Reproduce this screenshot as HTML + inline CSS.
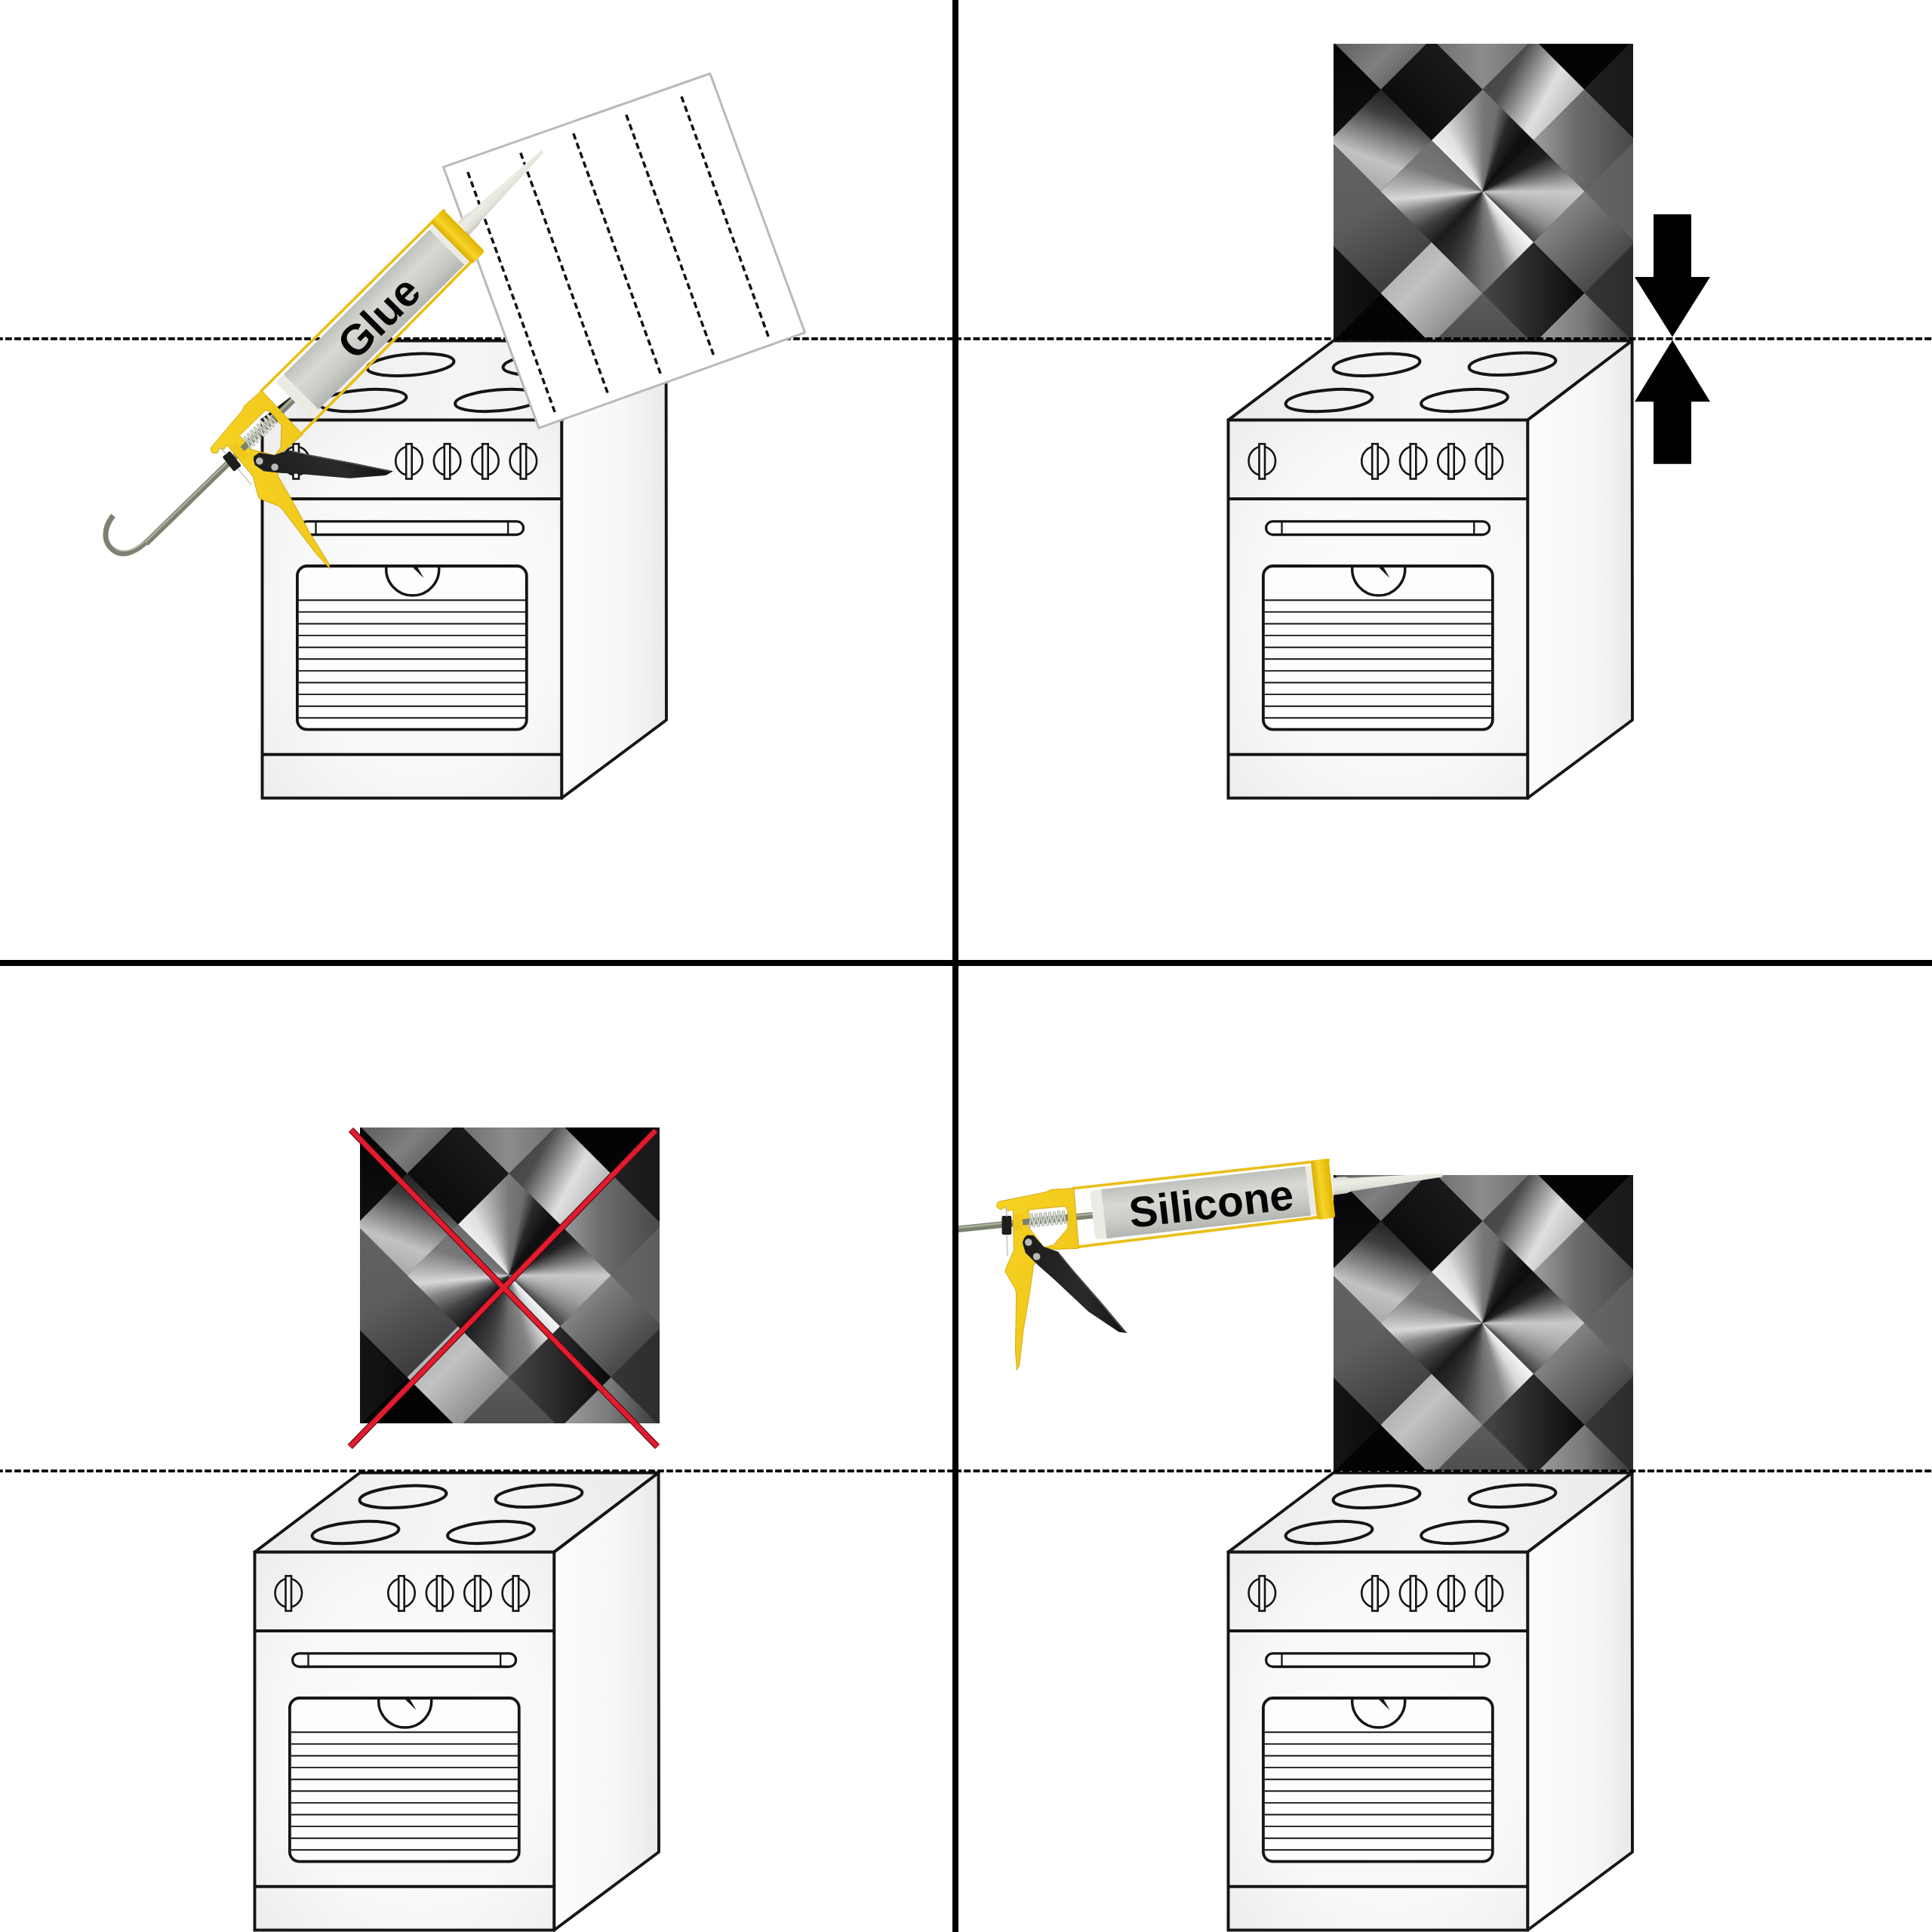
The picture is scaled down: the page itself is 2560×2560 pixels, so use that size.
<!DOCTYPE html>
<html><head><meta charset="utf-8"><title>Oven backsplash install</title>
<style>
html,body{margin:0;padding:0;background:#fff;width:2560px;height:2560px;overflow:hidden;position:relative;}
svg{display:block;position:absolute;left:0;top:0;}
.tile{position:absolute;width:397px;height:392px;overflow:hidden;background:#444;}
.cell{position:absolute;clip-path:polygon(50% 0,100% 50%,50% 100%,0 50%);}
.star{position:absolute;left:0;top:0;width:397px;height:392px;}
</style></head><body>

<svg width="2560" height="2560" viewBox="0 0 2560 2560">
<defs>
<radialGradient id="gFront" cx="0.55" cy="0.5" r="0.75">
<stop offset="0" stop-color="#fdfdfd"/><stop offset="0.6" stop-color="#f8f8f8"/><stop offset="1" stop-color="#ececed"/></radialGradient>
<linearGradient id="gTop" x1="0" y1="0" x2="1" y2="0">
<stop offset="0" stop-color="#ececee"/><stop offset="0.5" stop-color="#f5f5f6"/><stop offset="1" stop-color="#eaeaec"/></linearGradient>
<linearGradient id="gSide" x1="0" y1="0" x2="1" y2="0">
<stop offset="0" stop-color="#fcfcfc"/><stop offset="0.6" stop-color="#f7f7f7"/><stop offset="1" stop-color="#e9e9eb"/></linearGradient>
<g id="oven"><polygon points="1627.5,556.6 1766.9,451.5 2162.6,451.5 2024.2,556.6" fill="url(#gTop)" stroke="#161414" stroke-width="3.9" stroke-linejoin="round"/>
<polygon points="2024.2,556.6 2162.6,451.5 2163,954 2024.2,1057.5" fill="url(#gSide)" stroke="#161414" stroke-width="3.9" stroke-linejoin="round"/>
<rect x="1627.5" y="556.6" width="396.7" height="500.9" fill="url(#gFront)" stroke="#161414" stroke-width="3.9"/>
<line x1="1627.5" y1="661" x2="2024.2" y2="661" stroke="#161414" stroke-width="3.9"/>
<line x1="1627.5" y1="999.7" x2="2024.2" y2="999.7" stroke="#161414" stroke-width="3.9"/>
<ellipse cx="1824" cy="483.3" rx="57.6" ry="14" fill="none" stroke="#161414" stroke-width="4" transform="rotate(-4.7 1824 483.3)"/>
<ellipse cx="2004" cy="482.2" rx="57.6" ry="14" fill="none" stroke="#161414" stroke-width="4" transform="rotate(-4.7 2004 482.2)"/>
<ellipse cx="1761" cy="530.6" rx="57.6" ry="14" fill="none" stroke="#161414" stroke-width="4" transform="rotate(-4.7 1761 530.6)"/>
<ellipse cx="1940.5" cy="530.4" rx="57.6" ry="14" fill="none" stroke="#161414" stroke-width="4" transform="rotate(-4.7 1940.5 530.4)"/>
<ellipse cx="1672.3" cy="610.8" rx="17.75" ry="19" fill="none" stroke="#161414" stroke-width="2.6"/>
<rect x="1668.5" y="588.2" width="7.5" height="46.3" fill="#f7f7f7" stroke="#161414" stroke-width="2.6"/>
<ellipse cx="1822" cy="610.8" rx="17.75" ry="19" fill="none" stroke="#161414" stroke-width="2.6"/>
<rect x="1818.2" y="588.2" width="7.5" height="46.3" fill="#f7f7f7" stroke="#161414" stroke-width="2.6"/>
<ellipse cx="1872.6" cy="610.8" rx="17.75" ry="19" fill="none" stroke="#161414" stroke-width="2.6"/>
<rect x="1868.8" y="588.2" width="7.5" height="46.3" fill="#f7f7f7" stroke="#161414" stroke-width="2.6"/>
<ellipse cx="1923" cy="610.8" rx="17.75" ry="19" fill="none" stroke="#161414" stroke-width="2.6"/>
<rect x="1919.2" y="588.2" width="7.5" height="46.3" fill="#f7f7f7" stroke="#161414" stroke-width="2.6"/>
<ellipse cx="1973.4" cy="610.8" rx="17.75" ry="19" fill="none" stroke="#161414" stroke-width="2.6"/>
<rect x="1969.7" y="588.2" width="7.5" height="46.3" fill="#f7f7f7" stroke="#161414" stroke-width="2.6"/>
<rect x="1677.6" y="690.8" width="296" height="17.7" rx="8.85" fill="#fbfbfb" stroke="#161414" stroke-width="3.3"/>
<line x1="1698.5" y1="690.8" x2="1698.5" y2="708.5" stroke="#161414" stroke-width="2.3"/>
<line x1="1953.2" y1="690.8" x2="1953.2" y2="708.5" stroke="#161414" stroke-width="2.3"/>
<rect x="1673.9" y="750" width="303.9" height="216.7" rx="13" fill="#fdfdfd" stroke="#161414" stroke-width="3.8"/>
<line x1="1675.6" y1="795.3" x2="1976.1" y2="795.3" stroke="#161414" stroke-width="1.9"/>
<line x1="1675.6" y1="810.9" x2="1976.1" y2="810.9" stroke="#161414" stroke-width="1.9"/>
<line x1="1675.6" y1="826.5" x2="1976.1" y2="826.5" stroke="#161414" stroke-width="1.9"/>
<line x1="1675.6" y1="842.1" x2="1976.1" y2="842.1" stroke="#161414" stroke-width="1.9"/>
<line x1="1675.6" y1="857.7" x2="1976.1" y2="857.7" stroke="#161414" stroke-width="1.9"/>
<line x1="1675.6" y1="873.3" x2="1976.1" y2="873.3" stroke="#161414" stroke-width="1.9"/>
<line x1="1675.6" y1="888.9" x2="1976.1" y2="888.9" stroke="#161414" stroke-width="1.9"/>
<line x1="1675.6" y1="904.5" x2="1976.1" y2="904.5" stroke="#161414" stroke-width="1.9"/>
<line x1="1675.6" y1="920.1" x2="1976.1" y2="920.1" stroke="#161414" stroke-width="1.9"/>
<line x1="1675.6" y1="935.7" x2="1976.1" y2="935.7" stroke="#161414" stroke-width="1.9"/>
<line x1="1675.6" y1="951.3" x2="1976.1" y2="951.3" stroke="#161414" stroke-width="1.9"/>
<path d="M1791.93,750 A35,35 0 1 0 1861.47,750" fill="none" stroke="#161414" stroke-width="3.5"/>
<polygon points="1826,751 1833,751 1841.5,766" fill="#161414"/></g>
</defs>
<rect width="2560" height="2560" fill="#fff"/>
<use href="#oven" transform="translate(-1280,0)"/>
<use href="#oven"/>
<use href="#oven" transform="translate(-1290,1500)"/>
<use href="#oven" transform="translate(0,1500)"/>
</svg>
<div class="tile" style="left:1767px;top:57.5px;"><div class="cell" style="left:62.5px;top:-6.5px;width:135.0px;height:135.0px;background:linear-gradient(45deg,rgb(6,6,8) 0%,rgb(32,32,34) 100%)"></div><div class="cell" style="left:-5.0px;top:61.0px;width:135.0px;height:135.0px;background:linear-gradient(20deg,rgb(153,153,155) 0%,rgb(194,194,196) 35%,rgb(62,62,64) 70%,rgb(13,13,15) 100%)"></div><div class="cell" style="left:-5.0px;top:-74.0px;width:135.0px;height:135.0px;background:linear-gradient(135deg,rgb(62,62,64) 0%,rgb(127,127,129) 60%,rgb(76,76,78) 100%)"></div><div class="cell" style="left:-72.5px;top:-6.5px;width:135.0px;height:135.0px;background:linear-gradient(180deg,rgb(4,4,6) 0%,rgb(16,16,18) 100%)"></div><div class="cell" style="left:-72.5px;top:128.5px;width:135.0px;height:135.0px;background:linear-gradient(180deg,rgb(98,98,100) 0%,rgb(92,92,94) 100%)"></div><div class="cell" style="left:130.0px;top:-74.0px;width:135.0px;height:135.0px;background:linear-gradient(90deg,rgb(109,109,111) 0%,rgb(140,140,142) 50%,rgb(109,109,111) 100%)"></div><div class="cell" style="left:197.5px;top:-6.5px;width:135.0px;height:135.0px;background:linear-gradient(119deg,rgb(62,62,64) 0%,rgb(76,76,78) 30%,rgb(224,224,226) 60%,rgb(153,153,155) 100%)"></div><div class="cell" style="left:265.0px;top:61.0px;width:135.0px;height:135.0px;background:linear-gradient(90deg,rgb(159,159,161) 0%,rgb(109,109,111) 40%,rgb(71,71,73) 100%)"></div><div class="cell" style="left:265.0px;top:-74.0px;width:135.0px;height:135.0px;background:linear-gradient(180deg,rgb(2,2,4) 0%,rgb(4,4,6) 100%)"></div><div class="cell" style="left:332.5px;top:-6.5px;width:135.0px;height:135.0px;background:linear-gradient(90deg,rgb(32,32,34) 0%,rgb(16,16,18) 100%)"></div><div class="cell" style="left:332.5px;top:128.5px;width:135.0px;height:135.0px;background:linear-gradient(90deg,rgb(103,103,105) 0%,rgb(81,81,83) 100%)"></div><div class="cell" style="left:265.0px;top:196.0px;width:135.0px;height:135.0px;background:linear-gradient(135deg,rgb(159,159,161) 0%,rgb(44,44,46) 100%)"></div><div class="cell" style="left:197.5px;top:263.5px;width:135.0px;height:135.0px;background:linear-gradient(90deg,rgb(71,71,73) 0%,rgb(8,8,10) 100%)"></div><div class="cell" style="left:332.5px;top:263.5px;width:135.0px;height:135.0px;background:linear-gradient(90deg,rgb(53,53,55) 0%,rgb(36,36,38) 100%)"></div><div class="cell" style="left:265.0px;top:331.0px;width:135.0px;height:135.0px;background:linear-gradient(90deg,rgb(159,159,161) 0%,rgb(121,121,123) 50%,rgb(53,53,55) 100%)"></div><div class="cell" style="left:130.0px;top:331.0px;width:135.0px;height:135.0px;background:linear-gradient(180deg,rgb(92,92,94) 0%,rgb(62,62,64) 100%)"></div><div class="cell" style="left:-5.0px;top:196.0px;width:135.0px;height:135.0px;background:linear-gradient(150deg,rgb(109,109,111) 0%,rgb(48,48,50) 100%)"></div><div class="cell" style="left:-72.5px;top:263.5px;width:135.0px;height:135.0px;background:linear-gradient(90deg,rgb(32,32,34) 0%,rgb(11,11,13) 100%)"></div><div class="cell" style="left:-5.0px;top:331.0px;width:135.0px;height:135.0px;background:linear-gradient(180deg,rgb(4,4,6) 0%,rgb(2,2,4) 100%)"></div><div class="cell" style="left:62.5px;top:263.5px;width:135.0px;height:135.0px;background:linear-gradient(135deg,rgb(159,159,161) 0%,rgb(194,194,196) 40%,rgb(109,109,111) 100%)"></div><div class="star" style="clip-path:polygon(197.5px 61.0px,265.0px 128.5px,197.5px 196.0px,130.0px 128.5px);background:conic-gradient(from -45deg at 197.5px 196px,rgb(239,239,241) 0deg,rgb(224,224,226) 15deg,rgb(173,173,175) 30deg,rgb(121,121,123) 45deg,rgb(109,109,111) 55deg,rgb(40,40,42) 65deg,rgb(16,16,18) 80deg,rgb(13,13,15) 90deg)"></div><div class="star" style="clip-path:polygon(265.0px 128.5px,332.5px 196.0px,265.0px 263.5px,197.5px 196.0px);background:conic-gradient(from 0deg at 197.5px 196.0px,rgb(19,19,21) 45deg,rgb(32,32,34) 60deg,rgb(109,109,111) 75deg,rgb(201,201,203) 90deg,rgb(173,173,175) 105deg,rgb(133,133,135) 120deg,rgb(66,66,68) 135deg)"></div><div class="star" style="clip-path:polygon(197.5px 196.0px,265.0px 263.5px,197.5px 331.0px,130.0px 263.5px);background:conic-gradient(from 0deg at 197.5px 196.0px,rgb(247,247,249) 135deg,rgb(216,216,218) 150deg,rgb(133,133,135) 165deg,rgb(109,109,111) 180deg,rgb(66,66,68) 195deg,rgb(40,40,42) 210deg,rgb(25,25,27) 225deg)"></div><div class="star" style="clip-path:polygon(130.0px 128.5px,197.5px 196.0px,130.0px 263.5px,62.5px 196.0px);background:conic-gradient(from 0deg at 197.5px 196.0px,rgb(32,32,34) 225deg,rgb(66,66,68) 240deg,rgb(133,133,135) 255deg,rgb(216,216,218) 265deg,rgb(173,173,175) 275deg,rgb(121,121,123) 290deg,rgb(109,109,111) 315deg)"></div></div>
<div class="tile" style="left:1767px;top:1557px;"><div class="cell" style="left:62.5px;top:-6.5px;width:135.0px;height:135.0px;background:linear-gradient(45deg,rgb(6,6,8) 0%,rgb(32,32,34) 100%)"></div><div class="cell" style="left:-5.0px;top:61.0px;width:135.0px;height:135.0px;background:linear-gradient(20deg,rgb(153,153,155) 0%,rgb(194,194,196) 35%,rgb(62,62,64) 70%,rgb(13,13,15) 100%)"></div><div class="cell" style="left:-5.0px;top:-74.0px;width:135.0px;height:135.0px;background:linear-gradient(135deg,rgb(62,62,64) 0%,rgb(127,127,129) 60%,rgb(76,76,78) 100%)"></div><div class="cell" style="left:-72.5px;top:-6.5px;width:135.0px;height:135.0px;background:linear-gradient(180deg,rgb(4,4,6) 0%,rgb(16,16,18) 100%)"></div><div class="cell" style="left:-72.5px;top:128.5px;width:135.0px;height:135.0px;background:linear-gradient(180deg,rgb(98,98,100) 0%,rgb(92,92,94) 100%)"></div><div class="cell" style="left:130.0px;top:-74.0px;width:135.0px;height:135.0px;background:linear-gradient(90deg,rgb(109,109,111) 0%,rgb(140,140,142) 50%,rgb(109,109,111) 100%)"></div><div class="cell" style="left:197.5px;top:-6.5px;width:135.0px;height:135.0px;background:linear-gradient(119deg,rgb(62,62,64) 0%,rgb(76,76,78) 30%,rgb(224,224,226) 60%,rgb(153,153,155) 100%)"></div><div class="cell" style="left:265.0px;top:61.0px;width:135.0px;height:135.0px;background:linear-gradient(90deg,rgb(159,159,161) 0%,rgb(109,109,111) 40%,rgb(71,71,73) 100%)"></div><div class="cell" style="left:265.0px;top:-74.0px;width:135.0px;height:135.0px;background:linear-gradient(180deg,rgb(2,2,4) 0%,rgb(4,4,6) 100%)"></div><div class="cell" style="left:332.5px;top:-6.5px;width:135.0px;height:135.0px;background:linear-gradient(90deg,rgb(32,32,34) 0%,rgb(16,16,18) 100%)"></div><div class="cell" style="left:332.5px;top:128.5px;width:135.0px;height:135.0px;background:linear-gradient(90deg,rgb(103,103,105) 0%,rgb(81,81,83) 100%)"></div><div class="cell" style="left:265.0px;top:196.0px;width:135.0px;height:135.0px;background:linear-gradient(135deg,rgb(159,159,161) 0%,rgb(44,44,46) 100%)"></div><div class="cell" style="left:197.5px;top:263.5px;width:135.0px;height:135.0px;background:linear-gradient(90deg,rgb(71,71,73) 0%,rgb(8,8,10) 100%)"></div><div class="cell" style="left:332.5px;top:263.5px;width:135.0px;height:135.0px;background:linear-gradient(90deg,rgb(53,53,55) 0%,rgb(36,36,38) 100%)"></div><div class="cell" style="left:265.0px;top:331.0px;width:135.0px;height:135.0px;background:linear-gradient(90deg,rgb(159,159,161) 0%,rgb(121,121,123) 50%,rgb(53,53,55) 100%)"></div><div class="cell" style="left:130.0px;top:331.0px;width:135.0px;height:135.0px;background:linear-gradient(180deg,rgb(92,92,94) 0%,rgb(62,62,64) 100%)"></div><div class="cell" style="left:-5.0px;top:196.0px;width:135.0px;height:135.0px;background:linear-gradient(150deg,rgb(109,109,111) 0%,rgb(48,48,50) 100%)"></div><div class="cell" style="left:-72.5px;top:263.5px;width:135.0px;height:135.0px;background:linear-gradient(90deg,rgb(32,32,34) 0%,rgb(11,11,13) 100%)"></div><div class="cell" style="left:-5.0px;top:331.0px;width:135.0px;height:135.0px;background:linear-gradient(180deg,rgb(4,4,6) 0%,rgb(2,2,4) 100%)"></div><div class="cell" style="left:62.5px;top:263.5px;width:135.0px;height:135.0px;background:linear-gradient(135deg,rgb(159,159,161) 0%,rgb(194,194,196) 40%,rgb(109,109,111) 100%)"></div><div class="star" style="clip-path:polygon(197.5px 61.0px,265.0px 128.5px,197.5px 196.0px,130.0px 128.5px);background:conic-gradient(from -45deg at 197.5px 196px,rgb(239,239,241) 0deg,rgb(224,224,226) 15deg,rgb(173,173,175) 30deg,rgb(121,121,123) 45deg,rgb(109,109,111) 55deg,rgb(40,40,42) 65deg,rgb(16,16,18) 80deg,rgb(13,13,15) 90deg)"></div><div class="star" style="clip-path:polygon(265.0px 128.5px,332.5px 196.0px,265.0px 263.5px,197.5px 196.0px);background:conic-gradient(from 0deg at 197.5px 196.0px,rgb(19,19,21) 45deg,rgb(32,32,34) 60deg,rgb(109,109,111) 75deg,rgb(201,201,203) 90deg,rgb(173,173,175) 105deg,rgb(133,133,135) 120deg,rgb(66,66,68) 135deg)"></div><div class="star" style="clip-path:polygon(197.5px 196.0px,265.0px 263.5px,197.5px 331.0px,130.0px 263.5px);background:conic-gradient(from 0deg at 197.5px 196.0px,rgb(247,247,249) 135deg,rgb(216,216,218) 150deg,rgb(133,133,135) 165deg,rgb(109,109,111) 180deg,rgb(66,66,68) 195deg,rgb(40,40,42) 210deg,rgb(25,25,27) 225deg)"></div><div class="star" style="clip-path:polygon(130.0px 128.5px,197.5px 196.0px,130.0px 263.5px,62.5px 196.0px);background:conic-gradient(from 0deg at 197.5px 196.0px,rgb(32,32,34) 225deg,rgb(66,66,68) 240deg,rgb(133,133,135) 255deg,rgb(216,216,218) 265deg,rgb(173,173,175) 275deg,rgb(121,121,123) 290deg,rgb(109,109,111) 315deg)"></div></div>
<div class="tile" style="left:477px;top:1494px;"><div class="cell" style="left:62.5px;top:-6.5px;width:135.0px;height:135.0px;background:linear-gradient(45deg,rgb(6,6,8) 0%,rgb(32,32,34) 100%)"></div><div class="cell" style="left:-5.0px;top:61.0px;width:135.0px;height:135.0px;background:linear-gradient(20deg,rgb(153,153,155) 0%,rgb(194,194,196) 35%,rgb(62,62,64) 70%,rgb(13,13,15) 100%)"></div><div class="cell" style="left:-5.0px;top:-74.0px;width:135.0px;height:135.0px;background:linear-gradient(135deg,rgb(62,62,64) 0%,rgb(127,127,129) 60%,rgb(76,76,78) 100%)"></div><div class="cell" style="left:-72.5px;top:-6.5px;width:135.0px;height:135.0px;background:linear-gradient(180deg,rgb(4,4,6) 0%,rgb(16,16,18) 100%)"></div><div class="cell" style="left:-72.5px;top:128.5px;width:135.0px;height:135.0px;background:linear-gradient(180deg,rgb(98,98,100) 0%,rgb(92,92,94) 100%)"></div><div class="cell" style="left:130.0px;top:-74.0px;width:135.0px;height:135.0px;background:linear-gradient(90deg,rgb(109,109,111) 0%,rgb(140,140,142) 50%,rgb(109,109,111) 100%)"></div><div class="cell" style="left:197.5px;top:-6.5px;width:135.0px;height:135.0px;background:linear-gradient(119deg,rgb(62,62,64) 0%,rgb(76,76,78) 30%,rgb(224,224,226) 60%,rgb(153,153,155) 100%)"></div><div class="cell" style="left:265.0px;top:61.0px;width:135.0px;height:135.0px;background:linear-gradient(90deg,rgb(159,159,161) 0%,rgb(109,109,111) 40%,rgb(71,71,73) 100%)"></div><div class="cell" style="left:265.0px;top:-74.0px;width:135.0px;height:135.0px;background:linear-gradient(180deg,rgb(2,2,4) 0%,rgb(4,4,6) 100%)"></div><div class="cell" style="left:332.5px;top:-6.5px;width:135.0px;height:135.0px;background:linear-gradient(90deg,rgb(32,32,34) 0%,rgb(16,16,18) 100%)"></div><div class="cell" style="left:332.5px;top:128.5px;width:135.0px;height:135.0px;background:linear-gradient(90deg,rgb(103,103,105) 0%,rgb(81,81,83) 100%)"></div><div class="cell" style="left:265.0px;top:196.0px;width:135.0px;height:135.0px;background:linear-gradient(135deg,rgb(159,159,161) 0%,rgb(44,44,46) 100%)"></div><div class="cell" style="left:197.5px;top:263.5px;width:135.0px;height:135.0px;background:linear-gradient(90deg,rgb(71,71,73) 0%,rgb(8,8,10) 100%)"></div><div class="cell" style="left:332.5px;top:263.5px;width:135.0px;height:135.0px;background:linear-gradient(90deg,rgb(53,53,55) 0%,rgb(36,36,38) 100%)"></div><div class="cell" style="left:265.0px;top:331.0px;width:135.0px;height:135.0px;background:linear-gradient(90deg,rgb(159,159,161) 0%,rgb(121,121,123) 50%,rgb(53,53,55) 100%)"></div><div class="cell" style="left:130.0px;top:331.0px;width:135.0px;height:135.0px;background:linear-gradient(180deg,rgb(92,92,94) 0%,rgb(62,62,64) 100%)"></div><div class="cell" style="left:-5.0px;top:196.0px;width:135.0px;height:135.0px;background:linear-gradient(150deg,rgb(109,109,111) 0%,rgb(48,48,50) 100%)"></div><div class="cell" style="left:-72.5px;top:263.5px;width:135.0px;height:135.0px;background:linear-gradient(90deg,rgb(32,32,34) 0%,rgb(11,11,13) 100%)"></div><div class="cell" style="left:-5.0px;top:331.0px;width:135.0px;height:135.0px;background:linear-gradient(180deg,rgb(4,4,6) 0%,rgb(2,2,4) 100%)"></div><div class="cell" style="left:62.5px;top:263.5px;width:135.0px;height:135.0px;background:linear-gradient(135deg,rgb(159,159,161) 0%,rgb(194,194,196) 40%,rgb(109,109,111) 100%)"></div><div class="star" style="clip-path:polygon(197.5px 61.0px,265.0px 128.5px,197.5px 196.0px,130.0px 128.5px);background:conic-gradient(from -45deg at 197.5px 196px,rgb(239,239,241) 0deg,rgb(224,224,226) 15deg,rgb(173,173,175) 30deg,rgb(121,121,123) 45deg,rgb(109,109,111) 55deg,rgb(40,40,42) 65deg,rgb(16,16,18) 80deg,rgb(13,13,15) 90deg)"></div><div class="star" style="clip-path:polygon(265.0px 128.5px,332.5px 196.0px,265.0px 263.5px,197.5px 196.0px);background:conic-gradient(from 0deg at 197.5px 196.0px,rgb(19,19,21) 45deg,rgb(32,32,34) 60deg,rgb(109,109,111) 75deg,rgb(201,201,203) 90deg,rgb(173,173,175) 105deg,rgb(133,133,135) 120deg,rgb(66,66,68) 135deg)"></div><div class="star" style="clip-path:polygon(197.5px 196.0px,265.0px 263.5px,197.5px 331.0px,130.0px 263.5px);background:conic-gradient(from 0deg at 197.5px 196.0px,rgb(247,247,249) 135deg,rgb(216,216,218) 150deg,rgb(133,133,135) 165deg,rgb(109,109,111) 180deg,rgb(66,66,68) 195deg,rgb(40,40,42) 210deg,rgb(25,25,27) 225deg)"></div><div class="star" style="clip-path:polygon(130.0px 128.5px,197.5px 196.0px,130.0px 263.5px,62.5px 196.0px);background:conic-gradient(from 0deg at 197.5px 196.0px,rgb(32,32,34) 225deg,rgb(66,66,68) 240deg,rgb(133,133,135) 255deg,rgb(216,216,218) 265deg,rgb(173,173,175) 275deg,rgb(121,121,123) 290deg,rgb(109,109,111) 315deg)"></div></div>
<svg width="2560" height="2560" viewBox="0 0 2560 2560">
<defs>
<linearGradient id="gLabel" x1="0" y1="0" x2="0" y2="1">
<stop offset="0" stop-color="#bfc1bc"/><stop offset="0.35" stop-color="#d8d9d4"/><stop offset="0.7" stop-color="#c9cbc6"/><stop offset="1" stop-color="#b3b5b0"/></linearGradient>
<linearGradient id="gCap" x1="0" y1="0" x2="1" y2="0">
<stop offset="0" stop-color="#d9ad00"/><stop offset="0.4" stop-color="#f7d42a"/><stop offset="1" stop-color="#e0b400"/></linearGradient>
<linearGradient id="gYel" x1="0" y1="0" x2="1" y2="1">
<stop offset="0" stop-color="#f6d324"/><stop offset="1" stop-color="#eec416"/></linearGradient>
<linearGradient id="gLever" x1="0" y1="0" x2="1" y2="0">
<stop offset="0" stop-color="#1c1c1c"/><stop offset="0.6" stop-color="#2a2a2a"/><stop offset="1" stop-color="#111"/></linearGradient>
<linearGradient id="gNoz" x1="0" y1="0" x2="0" y2="1">
<stop offset="0" stop-color="#dcdbd1"/><stop offset="0.3" stop-color="#eeede5"/><stop offset="0.7" stop-color="#e3e2d8"/><stop offset="1" stop-color="#c9c8bd"/></linearGradient>
<clipPath id="clipBR"><rect x="1270" y="1280" width="1290" height="1280"/></clipPath>
</defs>
<path d="M0,447.1h3.8v3.7h-3.8zM7.1,447.1h8.7v3.7h-8.7zM19.1,447.1h8.7v3.7h-8.7zM31.1,447.1h8.7v3.7h-8.7zM43.1,447.1h8.7v3.7h-8.7zM55.1,447.1h8.7v3.7h-8.7zM67.1,447.1h8.7v3.7h-8.7zM79.1,447.1h8.7v3.7h-8.7zM91.1,447.1h8.7v3.7h-8.7zM103.1,447.1h8.7v3.7h-8.7zM115.1,447.1h8.7v3.7h-8.7zM127.1,447.1h8.7v3.7h-8.7zM139.1,447.1h8.7v3.7h-8.7zM151.1,447.1h8.7v3.7h-8.7zM163.1,447.1h8.7v3.7h-8.7zM175.1,447.1h8.7v3.7h-8.7zM187.1,447.1h8.7v3.7h-8.7zM199.1,447.1h8.7v3.7h-8.7zM211.1,447.1h8.7v3.7h-8.7zM223.1,447.1h8.7v3.7h-8.7zM235.1,447.1h8.7v3.7h-8.7zM247.1,447.1h8.7v3.7h-8.7zM259.1,447.1h8.7v3.7h-8.7zM271.1,447.1h8.7v3.7h-8.7zM283.1,447.1h8.7v3.7h-8.7zM295.1,447.1h8.7v3.7h-8.7zM307.1,447.1h8.7v3.7h-8.7zM319.1,447.1h8.7v3.7h-8.7zM331.1,447.1h8.7v3.7h-8.7zM343.1,447.1h8.7v3.7h-8.7zM355.1,447.1h8.7v3.7h-8.7zM367.1,447.1h8.7v3.7h-8.7zM379.1,447.1h8.7v3.7h-8.7zM391.1,447.1h8.7v3.7h-8.7zM403.1,447.1h8.7v3.7h-8.7zM415.1,447.1h8.7v3.7h-8.7zM427.1,447.1h8.7v3.7h-8.7zM439.1,447.1h8.7v3.7h-8.7zM451.1,447.1h8.7v3.7h-8.7zM463.1,447.1h8.7v3.7h-8.7zM475.1,447.1h8.7v3.7h-8.7zM487.1,447.1h8.7v3.7h-8.7zM499.1,447.1h8.7v3.7h-8.7zM511.1,447.1h8.7v3.7h-8.7zM523.1,447.1h8.7v3.7h-8.7zM535.1,447.1h8.7v3.7h-8.7zM547.1,447.1h8.7v3.7h-8.7zM559.1,447.1h8.7v3.7h-8.7zM571.1,447.1h8.7v3.7h-8.7zM583.1,447.1h8.7v3.7h-8.7zM595.1,447.1h8.7v3.7h-8.7zM607.1,447.1h8.7v3.7h-8.7zM619.1,447.1h8.7v3.7h-8.7zM631.1,447.1h8.7v3.7h-8.7zM643.1,447.1h8.7v3.7h-8.7zM655.1,447.1h8.7v3.7h-8.7zM667.1,447.1h8.7v3.7h-8.7zM679.1,447.1h8.7v3.7h-8.7zM691.1,447.1h8.7v3.7h-8.7zM703.1,447.1h8.7v3.7h-8.7zM715.1,447.1h8.7v3.7h-8.7zM727.1,447.1h8.7v3.7h-8.7zM739.1,447.1h8.7v3.7h-8.7zM751.1,447.1h8.7v3.7h-8.7zM763.1,447.1h8.7v3.7h-8.7zM775.1,447.1h8.7v3.7h-8.7zM787.1,447.1h8.7v3.7h-8.7zM799.1,447.1h8.7v3.7h-8.7zM811.1,447.1h8.7v3.7h-8.7zM823.1,447.1h8.7v3.7h-8.7zM835.1,447.1h8.7v3.7h-8.7zM847.1,447.1h8.7v3.7h-8.7zM859.1,447.1h8.7v3.7h-8.7zM871.1,447.1h8.7v3.7h-8.7zM883.1,447.1h8.7v3.7h-8.7zM895.1,447.1h8.7v3.7h-8.7zM907.1,447.1h8.7v3.7h-8.7zM919.1,447.1h8.7v3.7h-8.7zM931.1,447.1h8.7v3.7h-8.7zM943.1,447.1h8.7v3.7h-8.7zM955.1,447.1h8.7v3.7h-8.7zM967.1,447.1h8.7v3.7h-8.7zM979.1,447.1h8.7v3.7h-8.7zM991.1,447.1h8.7v3.7h-8.7zM1003.1,447.1h8.7v3.7h-8.7zM1015.1,447.1h8.7v3.7h-8.7zM1027.1,447.1h8.7v3.7h-8.7zM1039.1,447.1h8.7v3.7h-8.7zM1051.1,447.1h8.7v3.7h-8.7zM1063.1,447.1h8.7v3.7h-8.7zM1075.1,447.1h8.7v3.7h-8.7zM1087.1,447.1h8.7v3.7h-8.7zM1099.1,447.1h8.7v3.7h-8.7zM1111.1,447.1h8.7v3.7h-8.7zM1123.1,447.1h8.7v3.7h-8.7zM1135.1,447.1h8.7v3.7h-8.7zM1147.1,447.1h8.7v3.7h-8.7zM1159.1,447.1h8.7v3.7h-8.7zM1171.1,447.1h8.7v3.7h-8.7zM1183.1,447.1h8.7v3.7h-8.7zM1195.1,447.1h8.7v3.7h-8.7zM1207.1,447.1h8.7v3.7h-8.7zM1219.1,447.1h8.7v3.7h-8.7zM1231.1,447.1h8.7v3.7h-8.7zM1243.1,447.1h8.7v3.7h-8.7zM1255.1,447.1h6.9v3.7h-6.9z" fill="#000"/>
<path d="M1270,447.1h4v3.7h-4zM1277.2,447.1h9v3.7h-9zM1289.5,447.1h9v3.7h-9zM1301.7,447.1h9v3.7h-9zM1314,447.1h9v3.7h-9zM1326.2,447.1h9v3.7h-9zM1338.5,447.1h9v3.7h-9zM1350.7,447.1h9v3.7h-9zM1362.9,447.1h9v3.7h-9zM1375.2,447.1h9v3.7h-9zM1387.4,447.1h9v3.7h-9zM1399.7,447.1h9v3.7h-9zM1411.9,447.1h9v3.7h-9zM1424.1,447.1h9v3.7h-9zM1436.4,447.1h9v3.7h-9zM1448.6,447.1h9v3.7h-9zM1460.9,447.1h9v3.7h-9zM1473.1,447.1h9v3.7h-9zM1485.3,447.1h9v3.7h-9zM1497.6,447.1h9v3.7h-9zM1509.8,447.1h9v3.7h-9zM1522.1,447.1h9v3.7h-9zM1534.3,447.1h9v3.7h-9zM1546.5,447.1h9v3.7h-9zM1558.8,447.1h9v3.7h-9zM1571,447.1h9v3.7h-9zM1583.3,447.1h9v3.7h-9zM1595.5,447.1h9v3.7h-9zM1607.7,447.1h9v3.7h-9zM1620,447.1h9v3.7h-9zM1632.2,447.1h9v3.7h-9zM1644.5,447.1h9v3.7h-9zM1656.7,447.1h9v3.7h-9zM1668.9,447.1h9v3.7h-9zM1681.2,447.1h9v3.7h-9zM1693.4,447.1h9v3.7h-9zM1705.7,447.1h9v3.7h-9zM1717.9,447.1h9v3.7h-9zM1730.1,447.1h9v3.7h-9zM1742.4,447.1h9v3.7h-9zM1754.6,447.1h9v3.7h-9zM1766.9,447.1h9v3.7h-9zM1779.1,447.1h9v3.7h-9zM1791.3,447.1h9v3.7h-9zM1803.6,447.1h9v3.7h-9zM1815.8,447.1h9v3.7h-9zM1828.1,447.1h9v3.7h-9zM1840.3,447.1h9v3.7h-9zM1852.5,447.1h9v3.7h-9zM1864.8,447.1h9v3.7h-9zM1877,447.1h9v3.7h-9zM1889.3,447.1h9v3.7h-9zM1901.5,447.1h9v3.7h-9zM1913.7,447.1h9v3.7h-9zM1926,447.1h9v3.7h-9zM1938.2,447.1h9v3.7h-9zM1950.5,447.1h9v3.7h-9zM1962.7,447.1h9v3.7h-9zM1974.9,447.1h9v3.7h-9zM1987.2,447.1h9v3.7h-9zM1999.4,447.1h9v3.7h-9zM2011.7,447.1h9v3.7h-9zM2023.9,447.1h9v3.7h-9zM2036.1,447.1h9v3.7h-9zM2048.4,447.1h9v3.7h-9zM2060.6,447.1h9v3.7h-9zM2072.8,447.1h9v3.7h-9zM2085.1,447.1h9v3.7h-9zM2097.3,447.1h9v3.7h-9zM2109.6,447.1h9v3.7h-9zM2121.8,447.1h9v3.7h-9zM2134,447.1h9v3.7h-9zM2146.3,447.1h9v3.7h-9zM2158.5,447.1h9v3.7h-9zM2170.8,447.1h9v3.7h-9zM2183,447.1h9v3.7h-9zM2195.2,447.1h9v3.7h-9zM2207.5,447.1h9v3.7h-9zM2219.7,447.1h9v3.7h-9zM2232,447.1h9v3.7h-9zM2244.2,447.1h9v3.7h-9zM2256.4,447.1h9v3.7h-9zM2268.7,447.1h9v3.7h-9zM2280.9,447.1h9v3.7h-9zM2293.2,447.1h9v3.7h-9zM2305.4,447.1h9v3.7h-9zM2317.6,447.1h9v3.7h-9zM2329.9,447.1h9v3.7h-9zM2342.1,447.1h9v3.7h-9zM2354.4,447.1h9v3.7h-9zM2366.6,447.1h9v3.7h-9zM2378.8,447.1h9v3.7h-9zM2391.1,447.1h9v3.7h-9zM2403.3,447.1h9v3.7h-9zM2415.6,447.1h9v3.7h-9zM2427.8,447.1h9v3.7h-9zM2440,447.1h9v3.7h-9zM2452.3,447.1h9v3.7h-9zM2464.5,447.1h9v3.7h-9zM2476.8,447.1h9v3.7h-9zM2489,447.1h9v3.7h-9zM2501.2,447.1h9v3.7h-9zM2513.5,447.1h9v3.7h-9zM2525.7,447.1h9v3.7h-9zM2538,447.1h9v3.7h-9zM2550.2,447.1h9v3.7h-9z" fill="#000"/>
<path d="M0,1947.2h3.8v3.7h-3.8zM7.1,1947.2h8.7v3.7h-8.7zM19.1,1947.2h8.7v3.7h-8.7zM31.1,1947.2h8.7v3.7h-8.7zM43.1,1947.2h8.7v3.7h-8.7zM55.1,1947.2h8.7v3.7h-8.7zM67.1,1947.2h8.7v3.7h-8.7zM79.1,1947.2h8.7v3.7h-8.7zM91.1,1947.2h8.7v3.7h-8.7zM103.1,1947.2h8.7v3.7h-8.7zM115.1,1947.2h8.7v3.7h-8.7zM127.1,1947.2h8.7v3.7h-8.7zM139.1,1947.2h8.7v3.7h-8.7zM151.1,1947.2h8.7v3.7h-8.7zM163.1,1947.2h8.7v3.7h-8.7zM175.1,1947.2h8.7v3.7h-8.7zM187.1,1947.2h8.7v3.7h-8.7zM199.1,1947.2h8.7v3.7h-8.7zM211.1,1947.2h8.7v3.7h-8.7zM223.1,1947.2h8.7v3.7h-8.7zM235.1,1947.2h8.7v3.7h-8.7zM247.1,1947.2h8.7v3.7h-8.7zM259.1,1947.2h8.7v3.7h-8.7zM271.1,1947.2h8.7v3.7h-8.7zM283.1,1947.2h8.7v3.7h-8.7zM295.1,1947.2h8.7v3.7h-8.7zM307.1,1947.2h8.7v3.7h-8.7zM319.1,1947.2h8.7v3.7h-8.7zM331.1,1947.2h8.7v3.7h-8.7zM343.1,1947.2h8.7v3.7h-8.7zM355.1,1947.2h8.7v3.7h-8.7zM367.1,1947.2h8.7v3.7h-8.7zM379.1,1947.2h8.7v3.7h-8.7zM391.1,1947.2h8.7v3.7h-8.7zM403.1,1947.2h8.7v3.7h-8.7zM415.1,1947.2h8.7v3.7h-8.7zM427.1,1947.2h8.7v3.7h-8.7zM439.1,1947.2h8.7v3.7h-8.7zM451.1,1947.2h8.7v3.7h-8.7zM463.1,1947.2h8.7v3.7h-8.7zM475.1,1947.2h8.7v3.7h-8.7zM487.1,1947.2h8.7v3.7h-8.7zM499.1,1947.2h8.7v3.7h-8.7zM511.1,1947.2h8.7v3.7h-8.7zM523.1,1947.2h8.7v3.7h-8.7zM535.1,1947.2h8.7v3.7h-8.7zM547.1,1947.2h8.7v3.7h-8.7zM559.1,1947.2h8.7v3.7h-8.7zM571.1,1947.2h8.7v3.7h-8.7zM583.1,1947.2h8.7v3.7h-8.7zM595.1,1947.2h8.7v3.7h-8.7zM607.1,1947.2h8.7v3.7h-8.7zM619.1,1947.2h8.7v3.7h-8.7zM631.1,1947.2h8.7v3.7h-8.7zM643.1,1947.2h8.7v3.7h-8.7zM655.1,1947.2h8.7v3.7h-8.7zM667.1,1947.2h8.7v3.7h-8.7zM679.1,1947.2h8.7v3.7h-8.7zM691.1,1947.2h8.7v3.7h-8.7zM703.1,1947.2h8.7v3.7h-8.7zM715.1,1947.2h8.7v3.7h-8.7zM727.1,1947.2h8.7v3.7h-8.7zM739.1,1947.2h8.7v3.7h-8.7zM751.1,1947.2h8.7v3.7h-8.7zM763.1,1947.2h8.7v3.7h-8.7zM775.1,1947.2h8.7v3.7h-8.7zM787.1,1947.2h8.7v3.7h-8.7zM799.1,1947.2h8.7v3.7h-8.7zM811.1,1947.2h8.7v3.7h-8.7zM823.1,1947.2h8.7v3.7h-8.7zM835.1,1947.2h8.7v3.7h-8.7zM847.1,1947.2h8.7v3.7h-8.7zM859.1,1947.2h8.7v3.7h-8.7zM871.1,1947.2h8.7v3.7h-8.7zM883.1,1947.2h8.7v3.7h-8.7zM895.1,1947.2h8.7v3.7h-8.7zM907.1,1947.2h8.7v3.7h-8.7zM919.1,1947.2h8.7v3.7h-8.7zM931.1,1947.2h8.7v3.7h-8.7zM943.1,1947.2h8.7v3.7h-8.7zM955.1,1947.2h8.7v3.7h-8.7zM967.1,1947.2h8.7v3.7h-8.7zM979.1,1947.2h8.7v3.7h-8.7zM991.1,1947.2h8.7v3.7h-8.7zM1003.1,1947.2h8.7v3.7h-8.7zM1015.1,1947.2h8.7v3.7h-8.7zM1027.1,1947.2h8.7v3.7h-8.7zM1039.1,1947.2h8.7v3.7h-8.7zM1051.1,1947.2h8.7v3.7h-8.7zM1063.1,1947.2h8.7v3.7h-8.7zM1075.1,1947.2h8.7v3.7h-8.7zM1087.1,1947.2h8.7v3.7h-8.7zM1099.1,1947.2h8.7v3.7h-8.7zM1111.1,1947.2h8.7v3.7h-8.7zM1123.1,1947.2h8.7v3.7h-8.7zM1135.1,1947.2h8.7v3.7h-8.7zM1147.1,1947.2h8.7v3.7h-8.7zM1159.1,1947.2h8.7v3.7h-8.7zM1171.1,1947.2h8.7v3.7h-8.7zM1183.1,1947.2h8.7v3.7h-8.7zM1195.1,1947.2h8.7v3.7h-8.7zM1207.1,1947.2h8.7v3.7h-8.7zM1219.1,1947.2h8.7v3.7h-8.7zM1231.1,1947.2h8.7v3.7h-8.7zM1243.1,1947.2h8.7v3.7h-8.7zM1255.1,1947.2h6.9v3.7h-6.9z" fill="#000"/>
<path d="M1270,1947.2h4v3.7h-4zM1277.2,1947.2h9v3.7h-9zM1289.5,1947.2h9v3.7h-9zM1301.7,1947.2h9v3.7h-9zM1314,1947.2h9v3.7h-9zM1326.2,1947.2h9v3.7h-9zM1338.5,1947.2h9v3.7h-9zM1350.7,1947.2h9v3.7h-9zM1362.9,1947.2h9v3.7h-9zM1375.2,1947.2h9v3.7h-9zM1387.4,1947.2h9v3.7h-9zM1399.7,1947.2h9v3.7h-9zM1411.9,1947.2h9v3.7h-9zM1424.1,1947.2h9v3.7h-9zM1436.4,1947.2h9v3.7h-9zM1448.6,1947.2h9v3.7h-9zM1460.9,1947.2h9v3.7h-9zM1473.1,1947.2h9v3.7h-9zM1485.3,1947.2h9v3.7h-9zM1497.6,1947.2h9v3.7h-9zM1509.8,1947.2h9v3.7h-9zM1522.1,1947.2h9v3.7h-9zM1534.3,1947.2h9v3.7h-9zM1546.5,1947.2h9v3.7h-9zM1558.8,1947.2h9v3.7h-9zM1571,1947.2h9v3.7h-9zM1583.3,1947.2h9v3.7h-9zM1595.5,1947.2h9v3.7h-9zM1607.7,1947.2h9v3.7h-9zM1620,1947.2h9v3.7h-9zM1632.2,1947.2h9v3.7h-9zM1644.5,1947.2h9v3.7h-9zM1656.7,1947.2h9v3.7h-9zM1668.9,1947.2h9v3.7h-9zM1681.2,1947.2h9v3.7h-9zM1693.4,1947.2h9v3.7h-9zM1705.7,1947.2h9v3.7h-9zM1717.9,1947.2h9v3.7h-9zM1730.1,1947.2h9v3.7h-9zM1742.4,1947.2h9v3.7h-9zM1754.6,1947.2h9v3.7h-9zM1766.9,1947.2h9v3.7h-9zM1779.1,1947.2h9v3.7h-9zM1791.3,1947.2h9v3.7h-9zM1803.6,1947.2h9v3.7h-9zM1815.8,1947.2h9v3.7h-9zM1828.1,1947.2h9v3.7h-9zM1840.3,1947.2h9v3.7h-9zM1852.5,1947.2h9v3.7h-9zM1864.8,1947.2h9v3.7h-9zM1877,1947.2h9v3.7h-9zM1889.3,1947.2h9v3.7h-9zM1901.5,1947.2h9v3.7h-9zM1913.7,1947.2h9v3.7h-9zM1926,1947.2h9v3.7h-9zM1938.2,1947.2h9v3.7h-9zM1950.5,1947.2h9v3.7h-9zM1962.7,1947.2h9v3.7h-9zM1974.9,1947.2h9v3.7h-9zM1987.2,1947.2h9v3.7h-9zM1999.4,1947.2h9v3.7h-9zM2011.7,1947.2h9v3.7h-9zM2023.9,1947.2h9v3.7h-9zM2036.1,1947.2h9v3.7h-9zM2048.4,1947.2h9v3.7h-9zM2060.6,1947.2h9v3.7h-9zM2072.8,1947.2h9v3.7h-9zM2085.1,1947.2h9v3.7h-9zM2097.3,1947.2h9v3.7h-9zM2109.6,1947.2h9v3.7h-9zM2121.8,1947.2h9v3.7h-9zM2134,1947.2h9v3.7h-9zM2146.3,1947.2h9v3.7h-9zM2158.5,1947.2h9v3.7h-9zM2170.8,1947.2h9v3.7h-9zM2183,1947.2h9v3.7h-9zM2195.2,1947.2h9v3.7h-9zM2207.5,1947.2h9v3.7h-9zM2219.7,1947.2h9v3.7h-9zM2232,1947.2h9v3.7h-9zM2244.2,1947.2h9v3.7h-9zM2256.4,1947.2h9v3.7h-9zM2268.7,1947.2h9v3.7h-9zM2280.9,1947.2h9v3.7h-9zM2293.2,1947.2h9v3.7h-9zM2305.4,1947.2h9v3.7h-9zM2317.6,1947.2h9v3.7h-9zM2329.9,1947.2h9v3.7h-9zM2342.1,1947.2h9v3.7h-9zM2354.4,1947.2h9v3.7h-9zM2366.6,1947.2h9v3.7h-9zM2378.8,1947.2h9v3.7h-9zM2391.1,1947.2h9v3.7h-9zM2403.3,1947.2h9v3.7h-9zM2415.6,1947.2h9v3.7h-9zM2427.8,1947.2h9v3.7h-9zM2440,1947.2h9v3.7h-9zM2452.3,1947.2h9v3.7h-9zM2464.5,1947.2h9v3.7h-9zM2476.8,1947.2h9v3.7h-9zM2489,1947.2h9v3.7h-9zM2501.2,1947.2h9v3.7h-9zM2513.5,1947.2h9v3.7h-9zM2525.7,1947.2h9v3.7h-9zM2538,1947.2h9v3.7h-9zM2550.2,1947.2h9v3.7h-9z" fill="#000"/>
<polygon points="2191,284 2241,284 2241,367 2266,367 2216,446.6 2166,367 2191,367" fill="#000"/>
<polygon points="2216,450.7 2266,532.2 2241,532.2 2241,614.7 2191,614.7 2191,532.2 2166,532.2" fill="#000"/>
<line x1="465" y1="1497" x2="871" y2="1917" stroke="#3a0a0e" stroke-width="8.5"/>
<line x1="868.6" y1="1498" x2="463.8" y2="1917" stroke="#3a0a0e" stroke-width="8.5"/>
<line x1="465" y1="1497" x2="871" y2="1917" stroke="#e31b2d" stroke-width="6.5"/>
<line x1="868.6" y1="1498" x2="463.8" y2="1917" stroke="#e31b2d" stroke-width="6.5"/>
<polygon points="587.5,221.3 940.9,97.5 1066.6,440.7 714,567.2" fill="#fff" stroke="#b9b9b9" stroke-width="3" stroke-linejoin="round"/>
<line x1="619.8" y1="228" x2="735.5" y2="547" stroke="#111" stroke-width="3.5" stroke-dasharray="8.3 4.9"/>
<line x1="689.8" y1="202.5" x2="805.5" y2="521.5" stroke="#111" stroke-width="3.5" stroke-dasharray="8.3 4.9"/>
<line x1="759.8" y1="176.9" x2="875.5" y2="495.9" stroke="#111" stroke-width="3.5" stroke-dasharray="8.3 4.9"/>
<line x1="829.8" y1="152.1" x2="945.5" y2="470.3" stroke="#111" stroke-width="3.5" stroke-dasharray="8.3 4.9"/>
<line x1="903" y1="127.9" x2="1018.2" y2="446.1" stroke="#111" stroke-width="3.5" stroke-dasharray="8.3 4.9"/>
<path d="M194,718 C180,731 163,739 150,729 C137,719 136,701 150,683" fill="none" stroke="#7b8270" stroke-width="7"/><path d="M193,716 C180,728 164,735 152,726" fill="none" stroke="#b2b7a3" stroke-width="2"/>
<g transform="translate(718.5,200.9) rotate(-38.35) translate(-1911,-1557)"><line x1="1177" y1="1638.3" x2="1450" y2="1610" stroke="#7b8270" stroke-width="8.5"/>
<line x1="1177" y1="1636.5" x2="1450" y2="1608.2" stroke="#aab09c" stroke-width="2.5"/>
<line x1="1421" y1="1574.8" x2="1762" y2="1537" stroke="#e9bf17" stroke-width="3.6"/>
<line x1="1428" y1="1652.2" x2="1767" y2="1610.5" stroke="#e9bf17" stroke-width="3.8"/>
<g transform="rotate(-6.4 1447.7 1610.2)">
<rect x="1447.7" y="1577.4" width="298" height="65.6" rx="4" fill="#ecebe3"/>
<rect x="1463" y="1577.4" width="272" height="65.6" fill="url(#gLabel)"/>
<rect x="1743" y="1570.5" width="24" height="79" rx="4" fill="url(#gCap)"/>
</g>
<g transform="rotate(-5.95 1767 1572)">
<path d="M1766,1560.5 L1783,1561 L1790,1563 L1911.5,1569.6 Q1914,1572 1911.5,1574.4 L1790,1581 L1783,1583 L1766,1583.5 Z" fill="url(#gNoz)"/>
</g>
<text x="1605.5" y="1614.5" transform="rotate(-6.6 1605.5 1600)" text-anchor="middle" font-family="Liberation Sans, sans-serif" font-weight="bold" font-size="57" fill="#050505">Glue</text>
<path fill-rule="evenodd" fill="url(#gYel)" stroke="#c99d00" stroke-width="0.8" d="M1320.8,1599.7 C1320.5,1594 1322,1592.5 1325,1591.8 L1386,1579.5 L1392.8,1576.2 L1423,1574.5 L1429.1,1649.5 L1429,1654.2 L1397.5,1655.6 L1384,1652.9 L1369.6,1677.1 L1364.2,1714.8 L1356.1,1761.9 L1350.7,1809 L1347.4,1815.7 L1345.4,1788.8 L1346.7,1714.8 L1345.4,1708 L1331.9,1685.1 L1333.2,1679.8 L1343.3,1656.9 L1342.3,1603 L1336,1604.5 L1331,1600 L1326,1603 Z M1363.2,1603 L1411,1598.4 L1414.3,1603.7 L1415,1627.3 L1396.1,1649.5 L1383.4,1652.9 L1363.8,1627.3 Z"/>
<line x1="1355" y1="1619.5" x2="1416" y2="1613" stroke="#7b8270" stroke-width="8"/>
<polyline points="1364.0,1626.6 1367.0,1608.3 1370.0,1626.0 1373.0,1607.7 1376.0,1625.4 1379.0,1607.0 1382.0,1624.7 1385.0,1606.4 1388.0,1624.1 1391.0,1605.8 1394.0,1623.5 1397.0,1605.2 1400.0,1622.9 1403.0,1604.5 1406.0,1622.2 1409.0,1603.9 1412.0,1621.6" fill="none" stroke="#9ea296" stroke-width="3"/>
<polyline points="1364.0,1626.6 1367.0,1608.3 1370.0,1626.0 1373.0,1607.7 1376.0,1625.4 1379.0,1607.0 1382.0,1624.7 1385.0,1606.4 1388.0,1624.1 1391.0,1605.8 1394.0,1623.5 1397.0,1605.2 1400.0,1622.9 1403.0,1604.5 1406.0,1622.2 1409.0,1603.9 1412.0,1621.6" fill="none" stroke="#dfe2da" stroke-width="1.2"/>
<rect x="1343.6" y="1609" width="11" height="22" rx="2" fill="#f0c81a"/>
<rect x="1415" y="1603.7" width="10.7" height="21.6" rx="2" fill="#f0c81a"/>
<rect x="1327.5" y="1611.1" width="12.8" height="24.9" rx="2" fill="#1d1d1d"/>
<line x1="1333" y1="1598" x2="1334" y2="1612" stroke="#c0c0c0" stroke-width="1.6"/>
<line x1="1334" y1="1636" x2="1335" y2="1664" stroke="#c0c0c0" stroke-width="1.4"/>
<polygon fill="url(#gLever)" points="1357.5,1639.8 1361,1636.5 1369.6,1637.1 1383,1651.9 1401.9,1658.6 1420.7,1681.5 1458.4,1724.6 1493.4,1766.3 1482.7,1765 1442.3,1738 1396.5,1695 1375,1676.1 1358.8,1660 1354.8,1646.5"/>
<polyline points="1404,1662 1422,1684 1459,1727 1490,1764" fill="none" stroke="#5a5a5a" stroke-width="1.5" opacity="0.8"/>
<circle cx="1362.8" cy="1646.1" r="4.8" fill="#b9b9b5"/>
<circle cx="1373.6" cy="1665" r="4.8" fill="#b9b9b5"/></g>
<g clip-path="url(#clipBR)"><line x1="1250" y1="1630.7" x2="1450" y2="1610" stroke="#7b8270" stroke-width="8.5"/>
<line x1="1250" y1="1628.9" x2="1450" y2="1608.2" stroke="#aab09c" stroke-width="2.5"/>
<line x1="1421" y1="1574.8" x2="1762" y2="1537" stroke="#e9bf17" stroke-width="3.6"/>
<line x1="1428" y1="1652.2" x2="1767" y2="1610.5" stroke="#e9bf17" stroke-width="3.8"/>
<g transform="rotate(-6.4 1447.7 1610.2)">
<rect x="1447.7" y="1577.4" width="298" height="65.6" rx="4" fill="#ecebe3"/>
<rect x="1463" y="1577.4" width="272" height="65.6" fill="url(#gLabel)"/>
<rect x="1743" y="1570.5" width="24" height="79" rx="4" fill="url(#gCap)"/>
</g>
<g transform="rotate(-5.95 1767 1572)">
<path d="M1766,1560.5 L1783,1561 L1790,1563 L1911.5,1569.6 Q1914,1572 1911.5,1574.4 L1790,1581 L1783,1583 L1766,1583.5 Z" fill="url(#gNoz)"/>
</g>
<text x="1605.5" y="1614.5" transform="rotate(-6.6 1605.5 1600)" text-anchor="middle" font-family="Liberation Sans, sans-serif" font-weight="bold" font-size="57" fill="#050505">Silicone</text>
<path fill-rule="evenodd" fill="url(#gYel)" stroke="#c99d00" stroke-width="0.8" d="M1320.8,1599.7 C1320.5,1594 1322,1592.5 1325,1591.8 L1386,1579.5 L1392.8,1576.2 L1423,1574.5 L1429.1,1649.5 L1429,1654.2 L1397.5,1655.6 L1384,1652.9 L1369.6,1677.1 L1364.2,1714.8 L1356.1,1761.9 L1350.7,1809 L1347.4,1815.7 L1345.4,1788.8 L1346.7,1714.8 L1345.4,1708 L1331.9,1685.1 L1333.2,1679.8 L1343.3,1656.9 L1342.3,1603 L1336,1604.5 L1331,1600 L1326,1603 Z M1363.2,1603 L1411,1598.4 L1414.3,1603.7 L1415,1627.3 L1396.1,1649.5 L1383.4,1652.9 L1363.8,1627.3 Z"/>
<line x1="1355" y1="1619.5" x2="1416" y2="1613" stroke="#7b8270" stroke-width="8"/>
<polyline points="1364.0,1626.6 1367.0,1608.3 1370.0,1626.0 1373.0,1607.7 1376.0,1625.4 1379.0,1607.0 1382.0,1624.7 1385.0,1606.4 1388.0,1624.1 1391.0,1605.8 1394.0,1623.5 1397.0,1605.2 1400.0,1622.9 1403.0,1604.5 1406.0,1622.2 1409.0,1603.9 1412.0,1621.6" fill="none" stroke="#9ea296" stroke-width="3"/>
<polyline points="1364.0,1626.6 1367.0,1608.3 1370.0,1626.0 1373.0,1607.7 1376.0,1625.4 1379.0,1607.0 1382.0,1624.7 1385.0,1606.4 1388.0,1624.1 1391.0,1605.8 1394.0,1623.5 1397.0,1605.2 1400.0,1622.9 1403.0,1604.5 1406.0,1622.2 1409.0,1603.9 1412.0,1621.6" fill="none" stroke="#dfe2da" stroke-width="1.2"/>
<rect x="1343.6" y="1609" width="11" height="22" rx="2" fill="#f0c81a"/>
<rect x="1415" y="1603.7" width="10.7" height="21.6" rx="2" fill="#f0c81a"/>
<rect x="1327.5" y="1611.1" width="12.8" height="24.9" rx="2" fill="#1d1d1d"/>
<line x1="1333" y1="1598" x2="1334" y2="1612" stroke="#c0c0c0" stroke-width="1.6"/>
<line x1="1334" y1="1636" x2="1335" y2="1664" stroke="#c0c0c0" stroke-width="1.4"/>
<polygon fill="url(#gLever)" points="1357.5,1639.8 1361,1636.5 1369.6,1637.1 1383,1651.9 1401.9,1658.6 1420.7,1681.5 1458.4,1724.6 1493.4,1766.3 1482.7,1765 1442.3,1738 1396.5,1695 1375,1676.1 1358.8,1660 1354.8,1646.5"/>
<polyline points="1404,1662 1422,1684 1459,1727 1490,1764" fill="none" stroke="#5a5a5a" stroke-width="1.5" opacity="0.8"/>
<circle cx="1362.8" cy="1646.1" r="4.8" fill="#b9b9b5"/>
<circle cx="1373.6" cy="1665" r="4.8" fill="#b9b9b5"/></g>
<rect x="1262" y="0" width="8" height="2560" fill="#000"/>
<rect x="0" y="1272" width="2560" height="8" fill="#000"/>
</svg>
</body></html>
